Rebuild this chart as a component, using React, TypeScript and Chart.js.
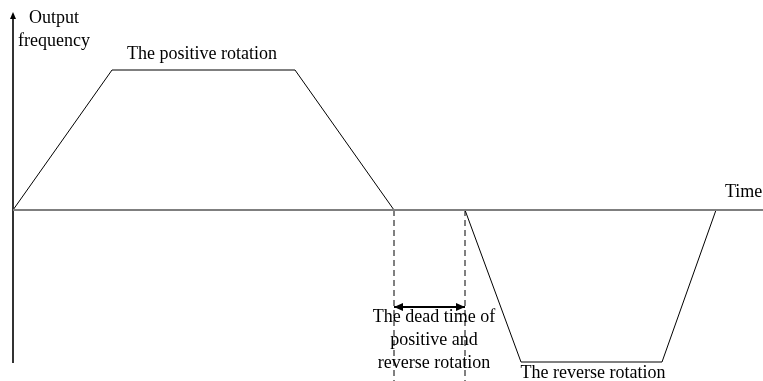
import React, { useEffect, useRef } from "react";
import { Chart, registerables } from "chart.js";

Chart.register(...registerables);

// Output frequency profile (time units, frequency units)
const times = [0, 9.9, 28.2, 38.1, 45.2, 50.8, 64.9, 70.3];
const freqs = [0, 14.0, 14.0, 0, 0, -15.2, -15.2, 0];

// Dead time markers
const deadStart = 38.1;
const deadEnd = 45.2;
const deadArrowLevel = -9.7;

// Axes extents
const timeAxisEnd = 75;
const freqAxisTop = 19.3;
const freqAxisBottom = -15.3;
const dashBottom = -17.1;

// Labels: [text lines, x, y, align]
const labelTexts = [
  ["Output", "frequency"],
  ["The positive rotation"],
  ["Time"],
  ["The dead time of", "positive and", "reverse rotation"],
  ["The reverse rotation"],
];
const labelX = [4.1, 18.9, 71.2, 42.1, 58.0];
const labelY = [19.2, 15.6, 1.8, -10.7, -16.3];
const labelAlign = ["center", "center", "left", "center", "center"];

const annotPlugin = {
  id: "annot",
  afterDatasetsDraw(chart: any) {
    const { ctx, scales } = chart;
    const xs = scales.x;
    const ys = scales.y;
    ctx.save();
    // y axis arrow head
    const ax = xs.getPixelForValue(0);
    const ay = ys.getPixelForValue(freqAxisTop);
    ctx.fillStyle = "#000";
    ctx.beginPath();
    ctx.moveTo(ax, ay - 5);
    ctx.lineTo(ax - 3, ay + 2);
    ctx.lineTo(ax + 3, ay + 2);
    ctx.closePath();
    ctx.fill();
    // double arrow heads
    const x1 = xs.getPixelForValue(deadStart);
    const x2 = xs.getPixelForValue(deadEnd);
    const yy = ys.getPixelForValue(deadArrowLevel);
    ctx.beginPath();
    ctx.moveTo(x1, yy);
    ctx.lineTo(x1 + 9, yy - 4);
    ctx.lineTo(x1 + 9, yy + 4);
    ctx.closePath();
    ctx.fill();
    ctx.beginPath();
    ctx.moveTo(x2, yy);
    ctx.lineTo(x2 - 9, yy - 4);
    ctx.lineTo(x2 - 9, yy + 4);
    ctx.closePath();
    ctx.fill();
    // texts
    ctx.font = '18px "Liberation Serif", "Times New Roman", serif';
    ctx.fillStyle = "#000";
    ctx.textBaseline = "middle";
    labelTexts.forEach((lines, i) => {
      ctx.textAlign = labelAlign[i];
      const px = xs.getPixelForValue(labelX[i]);
      const py = ys.getPixelForValue(labelY[i]);
      lines.forEach((ln, j) => {
        ctx.fillText(ln, px, py + j * 23);
      });
    });
    ctx.restore();
  },
};

export default function App() {
  const ref = useRef<HTMLCanvasElement>(null);
  useEffect(() => {
    const canvas = ref.current!;
    const chart = new Chart(canvas, {
      type: "scatter",
      data: {
        datasets: [
          {
            data: [
              { x: 0, y: 0 },
              { x: timeAxisEnd, y: 0 },
            ],
            showLine: true,
            borderColor: "#7f7f7f",
            borderWidth: 2,
            pointRadius: 0,
          },
          {
            data: [
              { x: 0, y: freqAxisBottom },
              { x: 0, y: freqAxisTop },
            ],
            showLine: true,
            borderColor: "#333",
            borderWidth: 2,
            pointRadius: 0,
          },
          {
            data: times.map((t, i) => ({ x: t, y: freqs[i] })),
            showLine: true,
            borderColor: "#000",
            borderWidth: 1,
            pointRadius: 0,
          },
          {
            data: [
              { x: deadStart, y: 0 },
              { x: deadStart, y: dashBottom },
            ],
            showLine: true,
            borderColor: "#000",
            borderWidth: 1,
            borderDash: [6, 4],
            pointRadius: 0,
          },
          {
            data: [
              { x: deadEnd, y: 0 },
              { x: deadEnd, y: dashBottom },
            ],
            showLine: true,
            borderColor: "#000",
            borderWidth: 1,
            borderDash: [6, 4],
            pointRadius: 0,
          },
          {
            data: [
              { x: deadStart, y: deadArrowLevel },
              { x: deadEnd, y: deadArrowLevel },
            ],
            showLine: true,
            borderColor: "#000",
            borderWidth: 2,
            pointRadius: 0,
          },
        ],
      },
      options: {
        responsive: false,
        animation: false,
        layout: { padding: 0 },
        plugins: { legend: { display: false }, tooltip: { enabled: false } },
        scales: {
          x: { type: "linear", min: -1.3, max: 75, display: false },
          y: { type: "linear", min: -17.1, max: 21, display: false },
        },
      },
      plugins: [annotPlugin],
    });
    return () => chart.destroy();
  }, []);
  return (
    <div style={{ position: "absolute", left: 0, top: 0, width: 763, height: 381, background: "#fff" }}>
      <canvas ref={ref} width={763} height={381} />
    </div>
  );
}
